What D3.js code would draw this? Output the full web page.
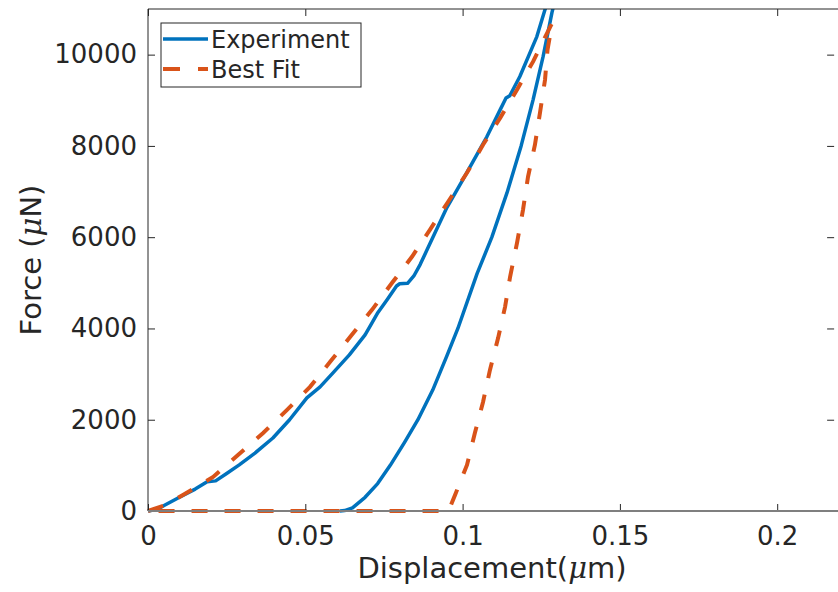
<!DOCTYPE html>
<html>
<head>
    <meta charset="utf-8">
    <script src="https://cdnjs.cloudflare.com/ajax/libs/d3/7.9.0/d3.min.js"></script>
    <style>
        body { margin: 0; background: #fff; }
        svg { display: block; }
        text { font-family: "DejaVu Sans", sans-serif; fill: #262626; }
    </style>
</head>
<body>
<div id="chart"></div>

<script>

// Data (displacement in um, force in uN)

const xTicks = [0, 0.05, 0.1, 0.15, 0.2]
const yTicks = [0, 2000, 4000, 6000, 8000, 10000]

// experiment: loading branch then unloading branch
const expX = [0, 0.003, 0.0054, 0.010, 0.015, 0.0188, 0.0215, 0.025, 0.029, 0.034, 0.0397, 0.045,
    0.0505, 0.0547, 0.0588, 0.064, 0.069, 0.0712, 0.0731, 0.076, 0.079, 0.080, 0.0825,
    0.0845, 0.0865, 0.0887, 0.095, 0.1001, 0.1077, 0.112, 0.1138, 0.115, 0.1182, 0.1236, 0.1262, 0.1272,
    0.1292, 0.1284, 0.1256, 0.1224, 0.1186, 0.1141, 0.1093, 0.1046, 0.0985, 0.095, 0.0905, 0.0858,
    0.0815, 0.077, 0.073, 0.069, 0.065, 0.0625, 0.061]
const expY = [0, 40, 130, 300, 480, 640, 660, 820, 1010, 1270, 1600, 2000,
    2478, 2719, 3026, 3420, 3860, 4120, 4350, 4630, 4930, 4980, 4990,
    5150, 5400, 5723, 6650, 7259, 8200, 8800, 9050, 9100, 9520, 10395, 10987, 11150,
    11150, 10920, 9960, 9010, 8000, 6970, 6000, 5200, 4000, 3400, 2650, 2000,
    1500, 1000, 600, 300, 70, 10, 0]

// best fit: loading, unloading, then back along zero
const fitX = [0, 0.0055, 0.0111, 0.0207, 0.0286, 0.0366, 0.0442, 0.0515, 0.0579, 0.0648, 0.0712,
    0.0776, 0.0839, 0.0896, 0.0954, 0.1014, 0.1065, 0.112, 0.1173, 0.1224, 0.1271, 0.1285,
    0.127, 0.1262, 0.1246, 0.123, 0.1208, 0.1192, 0.1173, 0.1151, 0.1135, 0.1113, 0.1087, 0.1065,
    0.1039, 0.1014, 0.0976, 0.0955, 0]
const fitY = [0, 130, 350, 746, 1228, 1710, 2215, 2720, 3268, 3860, 4408,
    5000, 5570, 6160, 6776, 7412, 8026, 8620, 9232, 9846, 10504, 10700,
    10110, 9450, 8728, 8026, 7325, 6600, 5877, 5132, 4474, 3794, 3092, 2390,
    1710, 1009, 350, 0, 0]

const seriesNames = ["Experiment", "Best Fit"]
const colors = ["#0072BD", "#D95319"]

// layout

const W = 838, H = 592
const plotLeft = 148, plotTop = 9, plotBottom = 511
const pxPerUnit = 3146

const svg = d3.select("#chart")
    .append("svg")
    .attr("width", W)
    .attr("height", H)

const x = d3.scaleLinear()
    .domain([0, 0.22])
    .range([plotLeft, plotLeft + 0.22 * pxPerUnit])

const y = d3.scaleLinear()
    .domain([0, 11000])
    .range([plotBottom, plotTop])

const fmt = d3.format("~g")

// clip for the curves
svg.append("clipPath").attr("id", "plotClip")
    .append("rect")
    .attr("x", plotLeft - 4)
    .attr("y", plotTop)
    .attr("width", x.range()[1] - plotLeft + 4)
    .attr("height", plotBottom - plotTop + 10)

// curves

const line = d3.line()
    .x(d => x(d[0]))
    .y(d => y(d[1]))

const expData = expX.map((v, i) => [v, expY[i]])
const fitData = fitX.map((v, i) => [v, fitY[i]])

const curves = svg.append("g").attr("clip-path", "url(#plotClip)")

curves.append("path")
    .datum(expData)
    .attr("fill", "none")
    .attr("stroke", colors[0])
    .attr("stroke-width", 3.5)
    .attr("stroke-linejoin", "round")
    .attr("d", line)

curves.append("path")
    .datum(fitData)
    .attr("fill", "none")
    .attr("stroke", colors[1])
    .attr("stroke-width", 4)
    .attr("stroke-dasharray", "16,17")
    .attr("d", line)

// axes (ticks pointing inward, MATLAB style)

svg.append("g")
    .attr("transform", `translate(0,${plotBottom})`)
    .call(d3.axisBottom(x).tickValues(xTicks).tickFormat(fmt).tickSizeInner(-7).tickSizeOuter(0).tickPadding(16))

svg.append("g")
    .attr("transform", `translate(${plotLeft},0)`)
    .call(d3.axisLeft(y).tickValues(yTicks).tickFormat(fmt).tickSizeInner(-7).tickSizeOuter(0).tickPadding(11))

svg.append("g")
    .attr("transform", `translate(0,${plotTop})`)
    .call(d3.axisTop(x).tickValues(xTicks).tickFormat("").tickSizeInner(-7).tickSizeOuter(0))

svg.append("g")
    .attr("transform", `translate(${x.range()[1] - 6},0)`)
    .call(d3.axisRight(y).tickValues(yTicks).tickFormat("").tickSizeInner(-7).tickSizeOuter(0))

svg.selectAll(".domain").remove()
svg.selectAll(".tick line").attr("stroke", "#262626")
svg.selectAll(".tick text")
    .attr("font-family", "DejaVu Sans")
    .attr("font-size", 26)
    .attr("fill", "#262626")

// box
svg.append("line")
    .attr("x1", plotLeft).attr("x2", plotLeft).attr("y1", plotTop).attr("y2", plotBottom)
    .attr("stroke", "#262626")
svg.append("line")
    .attr("x1", plotLeft).attr("x2", W).attr("y1", plotTop).attr("y2", plotTop)
    .attr("stroke", "#262626")
svg.append("line")
    .attr("x1", plotLeft).attr("x2", W).attr("y1", plotBottom).attr("y2", plotBottom)
    .attr("stroke", "#7f7f7f")
    .attr("stroke-width", 2)

// axis labels

const xLabel = svg.append("text")
    .attr("x", (plotLeft + 836) / 2)
    .attr("y", 578)
    .attr("text-anchor", "middle")
    .attr("font-size", 29)
xLabel.append("tspan").text("Displacement(")
xLabel.append("tspan").attr("font-family", "DejaVu Serif").attr("font-style", "italic").text("\u03bc")
xLabel.append("tspan").text("m)")

const yLabel = svg.append("text")
    .attr("transform", `translate(41,${(plotTop + plotBottom) / 2}) rotate(-90)`)
    .attr("text-anchor", "middle")
    .attr("font-size", 29)
yLabel.append("tspan").text("Force (")
yLabel.append("tspan").attr("font-family", "DejaVu Serif").attr("font-style", "italic").text("\u03bc")
yLabel.append("tspan").text("N)")

// legend

const legend = svg.append("g")

legend.append("rect")
    .attr("x", 161).attr("y", 23)
    .attr("width", 200).attr("height", 64)
    .attr("fill", "#fff")
    .attr("stroke", "#262626")
    .attr("stroke-width", 1)

seriesNames.forEach((name, i) => {
    const ly = 39 + i * 30
    legend.append("line")
        .attr("x1", 163).attr("x2", 208)
        .attr("y1", ly).attr("y2", ly)
        .attr("stroke", colors[i])
        .attr("stroke-width", i === 0 ? 3.5 : 4)
        .attr("stroke-dasharray", i === 0 ? null : "17,18")
    legend.append("text")
        .attr("x", 211)
        .attr("y", ly + 9)
        .attr("font-size", 24)
        .text(name)
})

</script>
</body>
</html>
